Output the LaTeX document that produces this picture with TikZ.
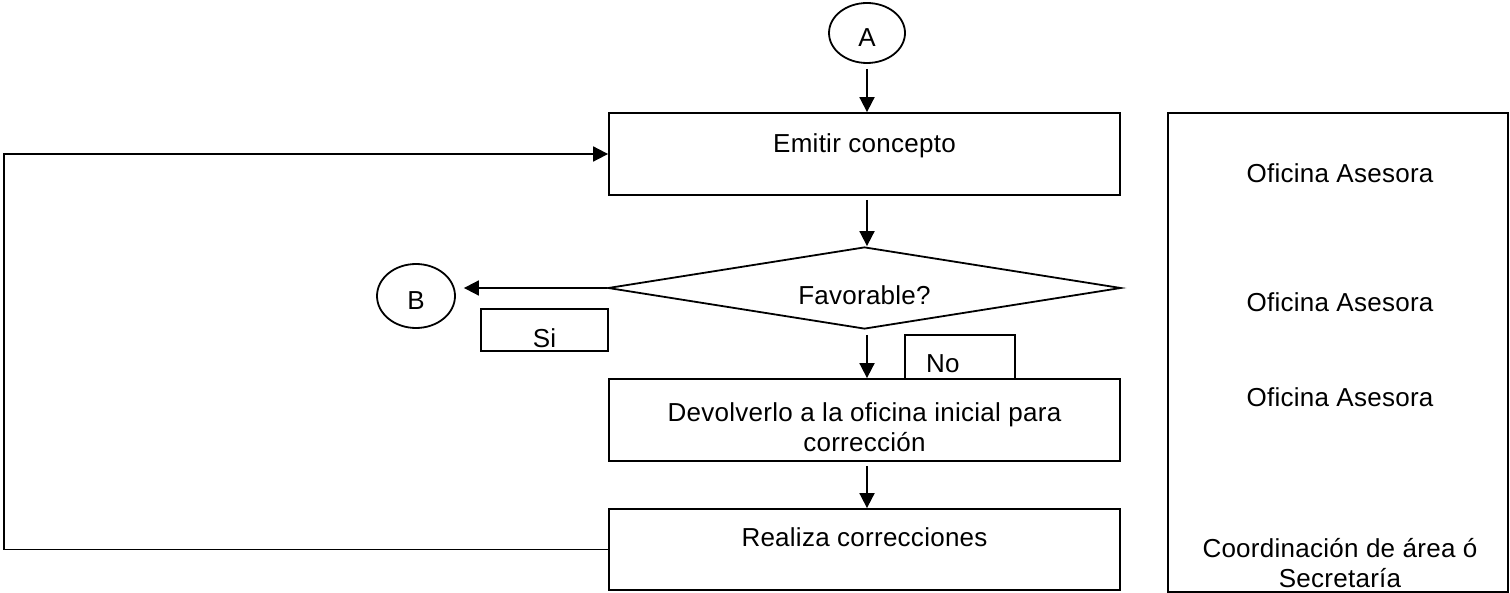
\documentclass[tikz,border=0pt]{standalone}
\usepackage{fontspec}
\setmainfont{Liberation Sans}[LetterSpace=1]
\usetikzlibrary{shapes.geometric,arrows.meta}
\begin{document}
\begin{tikzpicture}[x=.5pt,y=-.5pt,line width=0.9pt,
  txt/.style={font=\fontsize{13}{15}\selectfont},
  procbox/.style={draw,rectangle,inner sep=0pt,minimum width=255.5pt,minimum height=41pt,align=center,text height=9.5pt,txt},
  connector/.style={draw,ellipse,inner sep=0pt,minimum width=38pt,minimum height=30pt,text height=13.8pt,text depth=0pt,txt},
  tagbox/.style={draw,rectangle,inner sep=1pt,minimum height=21pt,text height=17.3pt,text depth=0pt,txt},
  flow/.style={-{Triangle[length=7.5pt,width=7.5pt]}},
  role/.style={anchor=base,align=center,txt}]
\path[use as bounding box] (0,0) rectangle (1510,593);
\node[connector] (A) at (867,33) {A};
\node[procbox,text depth=11.2pt] (emitir) at (864.5,154) {Emitir concepto};
\node[draw,diamond,inner sep=0pt,aspect=6.25,minimum width=256.5pt,minimum height=41pt,text height=16.3pt,text depth=0pt,txt] (favorable) at (864.5,288) {Favorable?};
\node[connector,minimum width=39pt,minimum height=32pt] (B) at (416,296) {B};
\node[tagbox,minimum width=63.5pt] (si) at (544.5,330) {Si};
\node[tagbox,minimum width=55pt,minimum height=22pt,text height=15.3pt,text width=34pt,inner xsep=10.5pt,align=left] (no) at (960,357) {No};
\node[procbox,text height=31.3pt,text depth=0pt] (devolver) at (864.5,420) {Devolverlo a la oficina inicial para\\corrección};
\node[procbox,minimum height=40.5pt,text depth=12.7pt] (realiza) at (864.5,549.5) {Realiza correcciones};
\node[draw,rectangle,inner sep=0pt,minimum width=170pt,minimum height=239.5pt] (roles) at (1338,352.5) {};
\node[role] (rol1) at (1340,182.3) {Oficina Asesora};
\node[role] (rol2) at (1340,311.3) {Oficina Asesora};
\node[role] (rol3) at (1340,406.3) {Oficina Asesora};
\node[role] (rol4) at (1340,587.3) {Coordinación de área ó\\Secretaría};
\coordinate (back) at (4,551);
\draw[flow,shorten <=2.5pt] (A.south) -- (A.south |- emitir.north);
\draw[flow,shorten <=2pt] (emitir.south -| A) -- (favorable.north -| A);
\draw[flow,shorten <=2.5pt] (favorable.south -| A) -- (devolver.north -| A);
\draw[flow,shorten <=2pt] (devolver.south -| A) -- (realiza.north -| A);
\draw[flow,shorten >=4pt] (favorable.west) -- (favorable.west -| B.east);
\draw[flow] (realiza.west) -- (realiza.west -| back) |- (emitir.west);
\end{tikzpicture}
\end{document}
